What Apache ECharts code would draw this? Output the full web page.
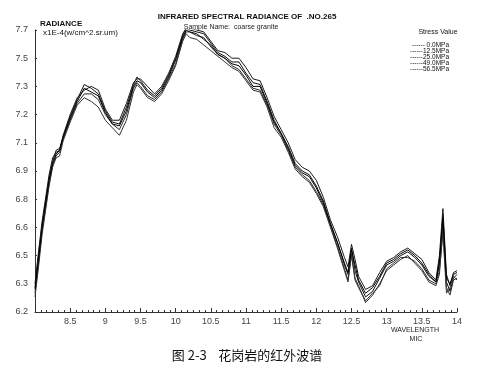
<!DOCTYPE html>
<html><head><meta charset="utf-8">
<script src="https://cdn.jsdelivr.net/npm/echarts@6/dist/echarts.min.js"></script>
<style>html,body{margin:0;padding:0;background:#fff}#c{width:478px;height:369px}</style>
</head><body><div id="c"></div>
<script>
const wavelengths = [8.0,8.05,8.1,8.2,8.25,8.3,8.35,8.4,8.5,8.6,8.7,8.8,8.9,9.0,9.1,9.2,9.3,9.4,9.45,9.5,9.6,9.7,9.8,9.9,10.0,10.1,10.15,10.2,10.3,10.4,10.5,10.6,10.7,10.8,10.9,11.0,11.1,11.2,11.3,11.4,11.5,11.6,11.7,11.8,11.9,12.0,12.1,12.2,12.3,12.4,12.45,12.5,12.55,12.6,12.7,12.8,12.9,13.0,13.1,13.2,13.3,13.4,13.5,13.6,13.7,13.75,13.8,13.85,13.9,13.95,14.0];
const seriesNames = ['0.0MPa','12.5MPa','25.0MPa','49.0MPa','56.5MPa'];
const s0 = [6.33,6.50,6.66,6.91,7.00,7.06,7.07,7.13,7.24,7.33,7.41,7.39,7.36,7.27,7.21,7.20,7.29,7.41,7.45,7.43,7.38,7.35,7.39,7.46,7.55,7.67,7.71,7.70,7.69,7.68,7.63,7.58,7.56,7.53,7.53,7.47,7.42,7.41,7.32,7.22,7.15,7.08,6.99,6.95,6.93,6.87,6.79,6.67,6.57,6.45,6.40,6.54,6.42,6.36,6.28,6.31,6.38,6.45,6.47,6.50,6.52,6.49,6.45,6.39,6.36,6.45,6.72,6.36,6.31,6.38,6.40];
const s1 = [6.30,6.46,6.63,6.88,6.98,7.03,7.05,7.12,7.22,7.31,7.36,7.36,7.33,7.25,7.20,7.17,7.25,7.39,7.42,7.40,7.35,7.33,7.37,7.44,7.52,7.65,7.69,7.69,7.67,7.66,7.61,7.57,7.55,7.51,7.49,7.44,7.39,7.38,7.30,7.20,7.14,7.06,6.97,6.93,6.90,6.84,6.77,6.66,6.55,6.43,6.37,6.51,6.38,6.34,6.25,6.29,6.35,6.42,6.45,6.48,6.50,6.46,6.42,6.36,6.34,6.40,6.65,6.33,6.29,6.37,6.38];
const s2 = [6.35,6.52,6.68,6.93,7.02,7.05,7.06,7.14,7.25,7.34,7.38,7.40,7.38,7.28,7.22,7.22,7.31,7.42,7.44,7.44,7.40,7.36,7.40,7.47,7.56,7.68,7.71,7.71,7.70,7.69,7.64,7.59,7.58,7.55,7.55,7.50,7.44,7.43,7.34,7.24,7.17,7.10,7.01,6.97,6.95,6.90,6.81,6.69,6.60,6.49,6.44,6.56,6.48,6.39,6.32,6.34,6.41,6.47,6.49,6.52,6.54,6.51,6.48,6.41,6.37,6.50,6.75,6.40,6.34,6.41,6.42];
const s3 = [6.28,6.44,6.61,6.87,6.97,7.02,7.03,7.11,7.21,7.30,7.34,7.32,7.29,7.22,7.18,7.14,7.22,7.37,7.41,7.39,7.34,7.32,7.36,7.43,7.51,7.64,7.68,7.66,7.65,7.62,7.59,7.56,7.53,7.50,7.48,7.43,7.38,7.37,7.29,7.18,7.13,7.05,6.96,6.92,6.89,6.83,6.76,6.65,6.54,6.42,6.36,6.50,6.37,6.33,6.26,6.30,6.34,6.43,6.46,6.49,6.49,6.47,6.43,6.37,6.35,6.42,6.62,6.30,6.33,6.39,6.37];
const s4 = [6.32,6.48,6.65,6.90,6.99,7.04,7.06,7.13,7.23,7.32,7.39,7.37,7.35,7.26,7.20,7.19,7.27,7.40,7.43,7.42,7.37,7.34,7.38,7.45,7.54,7.66,7.70,7.69,7.68,7.65,7.62,7.57,7.55,7.52,7.51,7.46,7.40,7.40,7.31,7.21,7.15,7.07,6.98,6.94,6.92,6.86,6.78,6.67,6.57,6.46,6.41,6.53,6.45,6.37,6.30,6.33,6.39,6.46,6.48,6.51,6.53,6.50,6.46,6.40,6.36,6.47,6.70,6.38,6.35,6.40,6.41];
const yTickLabels = ['6.2','6.3','6.5','6.6','6.8','6.9','7.1','7.2','7.3','7.5','7.7'];
const xTickLabels = ['','8.5','9','9.5','10','10.5','11','11.5','12','12.5','13','13.5','14'];
const Y0 = 6.2, YSTEP = 0.15;

const allSeries = [s0,s1,s2,s3,s4];
const colors = ['#111','#2a2a2a','#1a1a1a','#333','#000'];
const chart = echarts.init(document.getElementById('c'), null, {renderer:'canvas'});
chart.setOption({
  animation:false,
  backgroundColor:'#fff',
  title:[
    {text:'INFRARED SPECTRAL RADIANCE OF  .NO.265', left:242, top:8, textAlign:'center',
     textStyle:{fontFamily:'Liberation Sans',fontSize:8,fontWeight:'bold',color:'#111'}},
    {text:'Sample Name:  coarse granite', left:226, top:19, textAlign:'center',
     textStyle:{fontFamily:'Liberation Sans',fontSize:7,fontWeight:'normal',color:'#222'}},
    {text:'RADIANCE', left:35, top:15,
     textStyle:{fontFamily:'Liberation Sans',fontSize:8,fontWeight:'bold',color:'#111'}},
    {text:'x1E-4(w/cm^2.sr.um)', left:38, top:24,
     textStyle:{fontFamily:'Liberation Sans',fontSize:8,fontWeight:'normal',color:'#111'}},
    {text:'Stress Value', left:433, top:24, textAlign:'center',
     textStyle:{fontFamily:'Liberation Sans',fontSize:7,fontWeight:'normal',color:'#111'}},
    {text:'WAVELENGTH', left:410, top:322, textAlign:'center',
     textStyle:{fontFamily:'Liberation Sans',fontSize:7,fontWeight:'normal',color:'#222'}},
    {text:'MIC', left:411, top:331, textAlign:'center',
     textStyle:{fontFamily:'Liberation Sans',fontSize:7,fontWeight:'normal',color:'#222'}},
    {text:'图 2-3    花岗岩的红外波谱', left:242, top:344, textAlign:'center',
     textStyle:{fontFamily:'Noto Sans CJK SC',fontSize:13,fontWeight:'normal',color:'#111'}}
  ],
  legend:{
    orient:'vertical', right:19, top:37, itemGap:-1, icon:'none', itemWidth:0, itemHeight:5,
    data:seriesNames, align:'right',
    formatter:n => '------' + (n.length < 7 ? ' ' : '') + n,
    textStyle:{fontFamily:'Liberation Sans',fontSize:6.5,color:'#111',padding:0}
  },
  grid:{left:35, right:21, top:30, bottom:57},
  xAxis:{
    type:'value', min:8, max:14, interval:0.5,
    axisLine:{lineStyle:{color:'#333',width:1}},
    axisTick:{inside:true,length:4,lineStyle:{color:'#333'}},
    minorTick:{show:true,splitNumber:6,length:2,lineStyle:{color:'#333'}},
    splitLine:{show:false},
    axisLabel:{fontFamily:'Liberation Sans',fontSize:9,color:'#444',margin:5,
      formatter:(v)=>xTickLabels[Math.round((v-8)/0.5)]}
  },
  yAxis:{
    type:'value', min:0, max:1.5, interval:YSTEP,
    axisLine:{show:true,lineStyle:{color:'#333',width:1}},
    axisTick:{show:true,inside:true,length:2,lineStyle:{color:'#333'}},
    splitLine:{show:false},
    axisLabel:{fontFamily:'Liberation Sans',fontSize:9,color:'#444',margin:7,
      formatter:(v)=>yTickLabels[Math.round(v/YSTEP)]}
  },
  series: allSeries.map((arr,i)=>({
    name:seriesNames[i], type:'line', showSymbol:false, symbol:'none',
    lineStyle:{color:colors[i],width:1}, itemStyle:{color:colors[i]},
    data: wavelengths.map((w,j)=>[w, +(arr[j]-Y0).toFixed(4)])
  }))
});
</script></body></html>
